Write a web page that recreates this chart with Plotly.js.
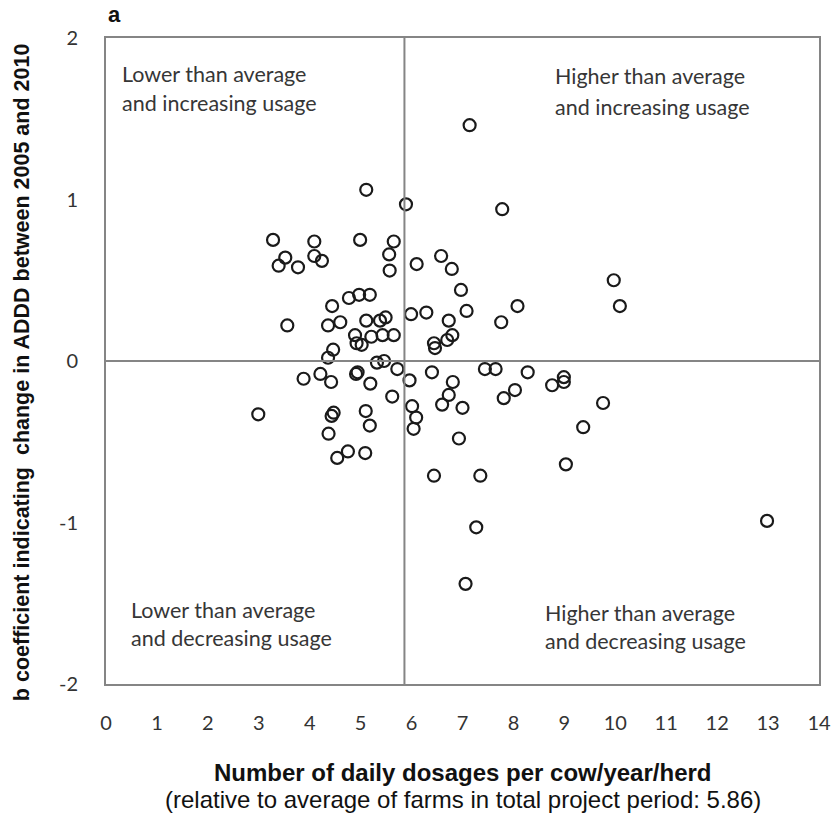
<!DOCTYPE html>
<html>
<head>
<meta charset="utf-8">
<script src="https://cdn.plot.ly/plotly-3.0.1.min.js"></script>
<style>
  html, body { margin: 0; padding: 0; background: #fff; }
  #chart { width: 832px; height: 816px; }
</style>
</head>
<body>
<div id="chart"></div>
<script>
// Daily dosages per cow/year/herd (mean over project period)
const dosages = [
  7.14, 5.11, 5.89, 7.78, 3.28, 4.09, 4.99, 5.65, 5.56, 5.57,
  3.52, 3.39, 3.77, 4.09, 4.24, 6.10, 6.58, 6.79, 6.97, 9.97,
  10.09, 4.44, 4.77, 4.97, 5.18, 8.08, 3.56, 4.36, 4.60, 5.11,
  5.38, 5.49, 5.99, 6.29, 7.08, 6.73, 7.76, 4.89, 5.21, 5.43,
  5.65, 4.92, 5.02, 4.46, 4.36, 6.44, 6.46, 6.70, 6.80, 5.32,
  5.46, 5.72, 5.96, 3.88, 4.21, 4.42, 4.91, 4.94, 5.19, 5.62,
  6.01, 2.99, 4.43, 4.47, 5.10, 5.18, 4.37, 4.54, 4.75, 5.09,
  6.09, 6.04, 6.40, 6.81, 6.73, 6.60, 7.00, 6.93, 6.44, 7.35,
  7.44, 7.65, 8.28, 8.03, 7.81, 8.76, 8.99, 8.99, 9.76, 9.37,
  9.03, 7.27, 7.06, 12.98
];
// b coefficient (change in ADDD 2005-2010)
const bCoef = [
  1.46, 1.06, 0.97, 0.94, 0.75, 0.74, 0.75, 0.74, 0.66, 0.56,
  0.64, 0.59, 0.58, 0.65, 0.62, 0.60, 0.65, 0.57, 0.44, 0.50,
  0.34, 0.34, 0.39, 0.41, 0.41, 0.34, 0.22, 0.22, 0.24, 0.25,
  0.25, 0.27, 0.29, 0.30, 0.31, 0.25, 0.24, 0.16, 0.15, 0.16,
  0.16, 0.11, 0.10, 0.07, 0.02, 0.11, 0.08, 0.13, 0.16, -0.01,
  0.00, -0.05, -0.12, -0.11, -0.08, -0.13, -0.08, -0.07, -0.14, -0.22,
  -0.28, -0.33, -0.34, -0.32, -0.31, -0.40, -0.45, -0.60, -0.56, -0.57,
  -0.35, -0.42, -0.07, -0.13, -0.21, -0.27, -0.29, -0.48, -0.71, -0.71,
  -0.05, -0.05, -0.07, -0.18, -0.23, -0.15, -0.10, -0.13, -0.26, -0.41,
  -0.64, -1.03, -1.38, -0.99
];

const averageDosage = 5.86;
const xTickVals = [0,1,2,3,4,5,6,7,8,9,10,11,12,13,14];
const xTickText = ["0","1","2","3","4","5","6","7","8","9","10","11","12","13","14"];
const yTickVals = [2, 1, 0, -1, -2];
const yTickText = ["2", "1", "0", "-1", "-2"];
const quadrantLines = [
  ["Lower than average", "and increasing usage"],
  ["Higher than average", "and increasing usage"],
  ["Lower than average", "and decreasing usage"],
  ["Higher than average", "and decreasing usage"]
];
const xTitle = "Number of daily dosages per cow/year/herd";
const xSubtitle = "(relative to average of farms in total project period: 5.86)";
const yTitle = "b coefficient indicating&nbsp; change in ADDD between 2005 and 2010";
const panelLabel = "a";

const lineGray = "#858585";
const arial = "'Liberation Sans', Arial, sans-serif";
const tickFont = { family: "Lato, 'Open Sans', sans-serif", size: 20, color: "#333" };
const quadFont = { family: "Lato, 'Open Sans', sans-serif", size: 21.5, color: "#363636" };

const trace = {
  type: "scatter",
  mode: "markers",
  x: dosages,
  y: bCoef,
  marker: {
    symbol: "circle-open",
    size: 12,
    color: "#1a1a1a",
    line: { width: 2.2, color: "#1a1a1a" }
  },
  hoverinfo: "x+y",
  cliponaxis: false
};

// quadrant label placement (layout only)
const quadPos = [
  { x: 0.265, y: [1.78, 1.60] },
  { x: 8.78, y: [1.762, 1.57] },
  { x: 0.461, y: [-1.543, -1.716] },
  { x: 8.59, y: [-1.561, -1.735] }
];
const annotations = [];
quadrantLines.forEach((lines, i) => {
  lines.forEach((t, j) => {
    annotations.push({
      x: quadPos[i].x, y: quadPos[i].y[j], xref: "x", yref: "y",
      text: t, showarrow: false, xanchor: "left", yanchor: "middle",
      font: quadFont
    });
  });
});
annotations.push({
  x: 0.0, y: 1.037, xref: "paper", yref: "paper",
  text: "<b>" + panelLabel + "</b>", showarrow: false, xanchor: "left", yanchor: "middle",
  font: { family: arial, size: 22, color: "#111" }
});
// axis titles
annotations.push({
  x: 0.5, y: -0.137, xref: "paper", yref: "paper",
  text: "<b>" + xTitle + "</b>", showarrow: false, xanchor: "center", yanchor: "middle",
  font: { family: arial, size: 24, color: "#111" }
});
annotations.push({
  x: 0.5, y: -0.179, xref: "paper", yref: "paper",
  text: xSubtitle, showarrow: false, xanchor: "center", yanchor: "middle",
  font: { family: arial, size: 24, color: "#111" }
});
annotations.push({
  x: -0.1185, y: 0.482, xref: "paper", yref: "paper",
  text: "<b>" + yTitle + "</b>", showarrow: false, xanchor: "center", yanchor: "middle",
  textangle: -90,
  font: { family: arial, size: 21.5, color: "#111" }
});

const layout = {
  width: 832,
  height: 816,
  margin: { l: 105.5, r: 13.3, t: 37.7, b: 131.7 },
  paper_bgcolor: "#fff",
  plot_bgcolor: "#fff",
  showlegend: false,
  xaxis: {
    range: [0, 14],
    tickvals: xTickVals,
    ticktext: xTickText,
    ticks: "outside",
    ticklen: 20,
    tickcolor: "rgba(0,0,0,0)",
    tickfont: tickFont,
    showgrid: false,
    zeroline: false,
    showline: true,
    mirror: true,
    linecolor: lineGray,
    linewidth: 2,
    fixedrange: true
  },
  yaxis: {
    range: [-2, 2],
    tickvals: yTickVals,
    ticktext: yTickText,
    ticks: "outside",
    ticklen: 22,
    tickcolor: "rgba(0,0,0,0)",
    tickfont: tickFont,
    showgrid: false,
    zeroline: false,
    showline: true,
    mirror: true,
    linecolor: lineGray,
    linewidth: 2,
    fixedrange: true
  },
  shapes: [
    { type: "line", xref: "x", yref: "y", x0: averageDosage, x1: averageDosage, y0: -2, y1: 2,
      line: { color: lineGray, width: 2 } },
    { type: "line", xref: "x", yref: "y", x0: 0, x1: 14, y0: 0, y1: 0,
      line: { color: lineGray, width: 2 } }
  ],
  annotations: annotations
};

Plotly.newPlot("chart", [trace], layout, { displayModeBar: false, staticPlot: true });
</script>
</body>
</html>
